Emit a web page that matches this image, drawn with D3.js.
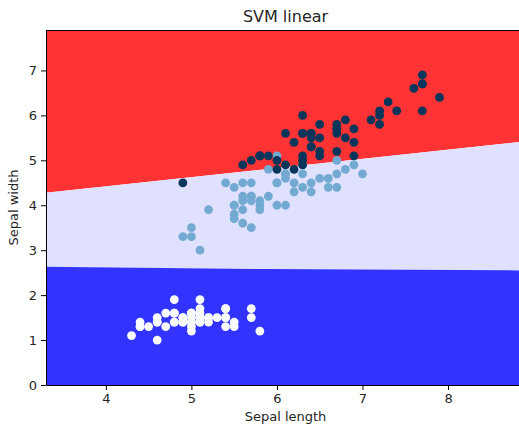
<!DOCTYPE html>
<html><head><meta charset="utf-8">
<script src="https://cdn.jsdelivr.net/npm/d3@7"></script>
<style>body{margin:0;background:#fff}svg{display:block}text{font-family:"DejaVu Sans",sans-serif;fill:#262626}</style>
</head><body><svg id="c" width="519" height="426"></svg>
<script>
// Iris: sepal length (x) and petal length (y) per class
const setosaX = [5.1,4.9,4.7,4.6,5.0,5.4,4.6,5.0,4.4,4.9,5.4,4.8,4.8,4.3,5.8,5.7,5.4,5.1,5.7,5.1,5.4,5.1,4.6,5.1,4.8,5.0,5.0,5.2,5.2,4.7,4.8,5.4,5.2,5.5,4.9,5.0,5.5,4.9,4.4,5.1,5.0,4.5,4.4,5.0,5.1,4.8,5.1,4.6,5.3,5.0];
const setosaY = [1.4,1.4,1.3,1.5,1.4,1.7,1.4,1.5,1.4,1.5,1.5,1.6,1.4,1.1,1.2,1.5,1.3,1.4,1.7,1.5,1.7,1.5,1.0,1.7,1.9,1.6,1.6,1.5,1.4,1.6,1.6,1.5,1.5,1.4,1.5,1.2,1.3,1.4,1.3,1.5,1.3,1.3,1.3,1.6,1.9,1.4,1.6,1.4,1.5,1.4];
const versicolorX = [7.0,6.4,6.9,5.5,6.5,5.7,6.3,4.9,6.6,5.2,5.0,5.9,6.0,6.1,5.6,6.7,5.6,5.8,6.2,5.6,5.9,6.1,6.3,6.1,6.4,6.6,6.8,6.7,6.0,5.7,5.5,5.5,5.8,6.0,5.4,6.0,6.7,6.3,5.6,5.5,5.5,6.1,5.8,5.0,5.6,5.7,5.7,6.2,5.1,5.7];
const versicolorY = [4.7,4.5,4.9,4.0,4.6,4.5,4.7,3.3,4.6,3.9,3.5,4.2,4.0,4.7,3.6,4.4,4.5,4.1,4.5,3.9,4.8,4.0,4.9,4.7,4.3,4.4,4.8,5.0,4.5,3.5,3.8,3.7,3.9,5.1,4.5,4.5,4.7,4.4,4.1,4.0,4.4,4.6,4.0,3.3,4.2,4.2,4.2,4.3,3.0,4.1];
const virginicaX = [6.3,5.8,7.1,6.3,6.5,7.6,4.9,7.3,6.7,7.2,6.5,6.4,6.8,5.7,5.8,6.4,6.5,7.7,7.7,6.0,6.9,5.6,7.7,6.3,6.7,7.2,6.2,6.1,6.4,7.2,7.4,7.9,6.4,6.3,6.1,7.7,6.3,6.4,6.0,6.9,6.7,6.9,5.8,6.8,6.7,6.7,6.3,6.5,6.2,5.9];
const virginicaY = [6.0,5.1,5.9,5.6,5.8,6.6,4.5,6.3,5.8,6.1,5.1,5.3,5.5,5.0,5.1,5.3,5.5,6.7,6.9,5.0,5.7,4.9,6.7,4.9,5.7,6.0,4.8,4.9,5.6,5.8,6.1,6.4,5.6,5.1,5.6,6.1,5.6,5.5,4.8,5.4,5.6,5.1,5.1,5.9,5.7,5.2,5.0,5.2,5.4,5.1];
// decision boundaries (x, y) at the domain edges
const boundaryUpper = [[3.3, 4.28], [8.9, 5.42]];
const boundaryLower = [[3.3, 2.63], [5.9, 2.58], [8.9, 2.55]];
const xTicks = [4,5,6,7,8];
const yTicks = [0,1,2,3,4,5,6,7];
const xDomain = [3.3, 8.9];
const yDomain = [0, 7.9];

const svg = d3.select("#c");
const L = 46, R = 525, T = 30, B = 385;
const x = d3.scaleLinear().domain(xDomain).range([L, R]);
const y = d3.scaleLinear().domain(yDomain).range([B, T]);

svg.append("defs").append("clipPath").attr("id","clip")
  .append("rect").attr("x",L).attr("y",T).attr("width",R-L).attr("height",B-T);
const g = svg.append("g").attr("clip-path","url(#clip)");

const line = d3.line().x(d=>x(d[0])).y(d=>y(d[1]));
const x0 = xDomain[0], x1 = xDomain[1], y0 = yDomain[0], y1 = yDomain[1];
// regions
g.append("path").attr("fill","#ff3333")
  .attr("d", line([[x0,y1],[x1,y1], ...boundaryUpper.slice().reverse()]) + "Z");
g.append("path").attr("fill","#e0e0ff")
  .attr("d", line([...boundaryUpper, ...boundaryLower.slice().reverse()]) + "Z");
g.append("path").attr("fill","#3333ff")
  .attr("d", line([...boundaryLower, [x1,y0],[x0,y0]]) + "Z");

function pts(xs, ys, color){
  g.append("g").selectAll("circle").data(xs.map((v,i)=>[v,ys[i]])).join("circle")
    .attr("cx",d=>x(d[0])).attr("cy",d=>y(d[1])).attr("r",4.4).attr("fill",color);
}
pts(setosaX, setosaY, "#f7fbff");
pts(versicolorX, versicolorY, "#72aad2");
pts(virginicaX, virginicaY, "#08355a");

// axes
const xa = svg.append("g").attr("transform",`translate(0,${B})`)
  .call(d3.axisBottom(x).tickValues(xTicks).tickFormat(d3.format("d")).tickSizeInner(5).tickSizeOuter(0).tickPadding(4));
const ya = svg.append("g").attr("transform",`translate(${L},0)`)
  .call(d3.axisLeft(y).tickValues(yTicks).tickFormat(d3.format("d")).tickSizeInner(5).tickSizeOuter(0).tickPadding(4));
[xa,ya].forEach(a=>{
  a.selectAll("text").style("font-size","13px").style("font-family","DejaVu Sans").attr("fill","#262626");
  a.selectAll("line").attr("stroke","#000");
  a.select(".domain").attr("stroke","#000");
});
svg.append("line").attr("x1",L).attr("x2",R).attr("y1",T+0.5).attr("y2",T+0.5).attr("stroke","#000");

svg.append("text").attr("x",(L+R)/2).attr("y",22).attr("text-anchor","middle")
  .style("font-size","16px").text("SVM linear");
svg.append("text").attr("x",(L+R)/2).attr("y",421).attr("text-anchor","middle")
  .style("font-size","13px").text("Sepal length");
svg.append("text").attr("transform",`translate(18,${(T+B)/2}) rotate(-90)`).attr("text-anchor","middle")
  .style("font-size","13px").text("Sepal width");
</script></body></html>
